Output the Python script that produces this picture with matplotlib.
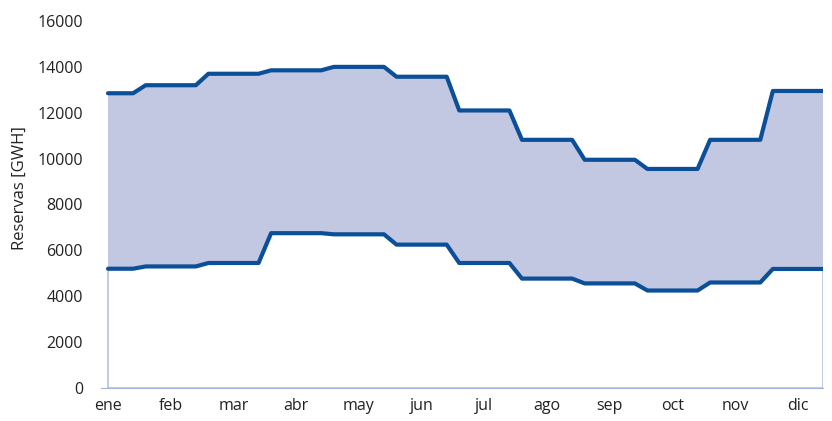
import numpy as np
import matplotlib
matplotlib.use("Agg")
import matplotlib.pyplot as plt

plt.rcParams['font.family'] = ['Open Sans', 'DejaVu Sans']

# stored reserves [GWH], one value per period (58 periods, ~5 per month)
maximo = [12850, 12850, 12850,
          13200, 13200, 13200, 13200, 13200,
          13700, 13700, 13700, 13700, 13700,
          13850, 13850, 13850, 13850, 13850,
          14000, 14000, 14000, 14000, 14000,
          13570, 13570, 13570, 13570, 13570,
          12100, 12100, 12100, 12100, 12100,
          10820, 10820, 10820, 10820, 10820,
          9950, 9950, 9950, 9950, 9950,
          9550, 9550, 9550, 9550, 9550,
          10820, 10820, 10820, 10820, 10820,
          12950, 12950, 12950, 12950, 12950]
minimo = [5200, 5200, 5200,
          5300, 5300, 5300, 5300, 5300,
          5450, 5450, 5450, 5450, 5450,
          6750, 6750, 6750, 6750, 6750,
          6700, 6700, 6700, 6700, 6700,
          6250, 6250, 6250, 6250, 6250,
          5450, 5450, 5450, 5450, 5450,
          4770, 4770, 4770, 4770, 4770,
          4560, 4560, 4560, 4560, 4560,
          4250, 4250, 4250, 4250, 4250,
          4600, 4600, 4600, 4600, 4600,
          5190, 5190, 5190, 5190, 5190]
meses = ['ene', 'feb', 'mar', 'abr', 'may', 'jun',
         'jul', 'ago', 'sep', 'oct', 'nov', 'dic']

x = np.arange(len(maximo))

fig = plt.figure(figsize=(8.32, 4.21), dpi=100)
ax = fig.add_axes([100.5/832, 1 - 388/421, 722.5/832, 367/421])

ax.fill_between(x, 0, minimo, facecolor='none', edgecolor='#a9b5d9', lw=1)
ax.fill_between(x, minimo, maximo, facecolor='#c2c8e2', edgecolor='none')
ax.plot(x, maximo, color='#0b4f98', lw=3, solid_capstyle='round')
ax.plot(x, minimo, color='#0b4f98', lw=3, solid_capstyle='round')

ax.set_xlim(-0.6, len(x) - 1)
ax.set_ylim(0, 16000)
ax.set_yticks(np.arange(0, 16001, 2000))
ax.set_xticks(np.arange(0, 5 * len(meses), 5))
ax.set_xticklabels(meses)

for s in ['top', 'right', 'left']:
    ax.spines[s].set_visible(False)
ax.spines['bottom'].set_color('#a9b5d9')
ax.tick_params(axis='both', length=0, labelsize=11.5, colors='#222222')
ax.tick_params(axis='y', pad=12.6)
ax.tick_params(axis='x', pad=7)

ax.set_ylabel('Reservas [GWH]', fontsize=12, color='#222222')
ax.yaxis.set_label_coords(-0.1003, 0.545)

fig.savefig('out.png', dpi=100)
